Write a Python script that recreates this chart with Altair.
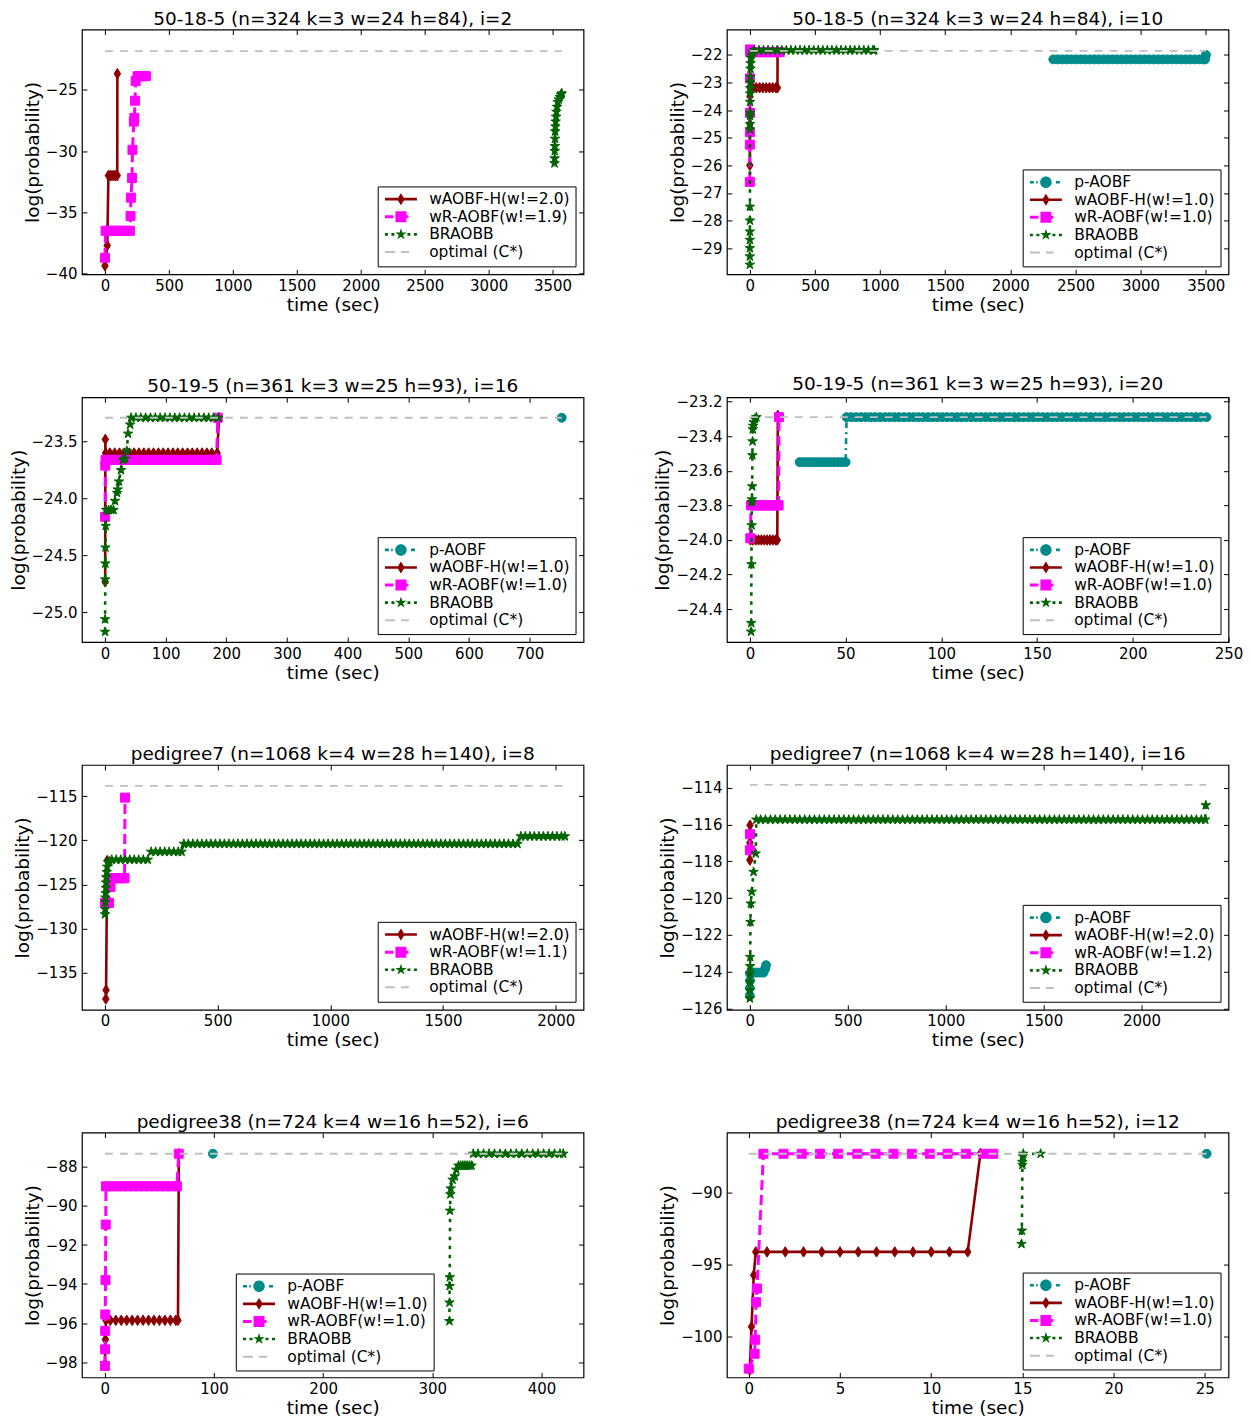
import altair as alt
import pandas as pd

FONT = "DejaVu Sans"
W, H = 502, 245

# ---------------- data ----------------
TITLES = [
    "50-18-5 (n=324 k=3 w=24 h=84), i=2",
    "50-18-5 (n=324 k=3 w=24 h=84), i=10",
    "50-19-5 (n=361 k=3 w=25 h=93), i=16",
    "50-19-5 (n=361 k=3 w=25 h=93), i=20",
    "pedigree7 (n=1068 k=4 w=28 h=140), i=8",
    "pedigree7 (n=1068 k=4 w=28 h=140), i=16",
    "pedigree38 (n=724 k=4 w=16 h=52), i=6",
    "pedigree38 (n=724 k=4 w=16 h=52), i=12",
]
LEGENDS = [
    ["wAOBF-H(w!=2.0)", "wR-AOBF(w!=1.9)", "BRAOBB", "optimal (C*)"],
    ["p-AOBF", "wAOBF-H(w!=1.0)", "wR-AOBF(w!=1.0)", "BRAOBB", "optimal (C*)"],
    ["p-AOBF", "wAOBF-H(w!=1.0)", "wR-AOBF(w!=1.0)", "BRAOBB", "optimal (C*)"],
    ["p-AOBF", "wAOBF-H(w!=1.0)", "wR-AOBF(w!=1.0)", "BRAOBB", "optimal (C*)"],
    ["wAOBF-H(w!=2.0)", "wR-AOBF(w!=1.1)", "BRAOBB", "optimal (C*)"],
    ["p-AOBF", "wAOBF-H(w!=2.0)", "wR-AOBF(w!=1.2)", "BRAOBB", "optimal (C*)"],
    ["p-AOBF", "wAOBF-H(w!=1.0)", "wR-AOBF(w!=1.0)", "BRAOBB", "optimal (C*)"],
    ["p-AOBF", "wAOBF-H(w!=1.0)", "wR-AOBF(w!=1.0)", "BRAOBB", "optimal (C*)"],
]
OPTIMAL = [-21.85, -21.85, -23.29, -23.29, -113.83, -113.85, -87.32, -87.33]
OPT_TMAX = [3572, 3502, 753, 238.5, 2040, 2330, 420, 25.1]

X_DOMAINS = [[-180, 3742], [-176, 3675], [-38, 789], [-12, 250],
             [-102, 2123], [-117, 2444], [-21, 438.6], [-1.2, 26.3]]
Y_DOMAINS = [[-40.05, -20.1], [-29.95, -21.08], [-25.26, -23.11], [-24.59, -23.175],
             [-139.23, -111.45], [-126.07, -112.77], [-98.79, -86.24], [-102.81, -85.87]]
X_TICKS = [
    [0, 500, 1000, 1500, 2000, 2500, 3000, 3500],
    [0, 500, 1000, 1500, 2000, 2500, 3000, 3500],
    [0, 100, 200, 300, 400, 500, 600, 700],
    [0, 50, 100, 150, 200, 250],
    [0, 500, 1000, 1500, 2000],
    [0, 500, 1000, 1500, 2000],
    [0, 100, 200, 300, 400],
    [0, 5, 10, 15, 20, 25],
]
Y_TICKS = [
    [-40, -35, -30, -25],
    [-29, -28, -27, -26, -25, -24, -23, -22],
    [-25.0, -24.5, -24.0, -23.5],
    [-24.4, -24.2, -24.0, -23.8, -23.6, -23.4, -23.2],
    [-135, -130, -125, -120, -115],
    [-126, -124, -122, -120, -118, -116, -114],
    [-98, -96, -94, -92, -90, -88],
    [-100, -95, -90],
]
Y_FORMATS = ["d", "d", ".1f", ".1f", "d", "d", "d", "d"]

# panel 1
P1_WA_T = [0, 18, 27, 40, 55, 70, 85, 96, 97]
P1_WA_Y = [-39.35, -37.7, -32.0, -32.0, -32.0, -32.0, -32.0, -32.0, -23.7]
P1_WR_T = [0, 5, 35, 65, 95, 125, 160, 195, 200, 203, 212, 215, 226, 230, 235, 240, 255, 275, 295, 320]
P1_WR_Y = [-38.7, -36.5, -36.5, -36.5, -36.5, -36.5, -36.5, -36.5, -35.3, -33.8,
           -32.2, -29.9, -27.6, -27.3, -25.9, -24.3, -23.9, -23.9, -23.9, -23.9]
P1_BR_T = [3515, 3516, 3517, 3518, 3519, 3520, 3522, 3524, 3527, 3530, 3535, 3540, 3548, 3556, 3565, 3572]
P1_BR_Y = [-31.0, -30.6, -30.0, -29.6, -29.0, -28.4, -28.0, -27.6, -27.2, -26.8, -26.4, -26.0, -25.8, -25.6, -25.4, -25.3]

# panel 2
P2_PA_T = [2330, 2365, 2400, 2435, 2470, 2505, 2540, 2575, 2610, 2645,
           2680, 2715, 2750, 2785, 2820, 2855, 2890, 2925, 2960, 2995,
           3030, 3065, 3100, 3135, 3170, 3205, 3240, 3275, 3310, 3345,
           3380, 3415, 3450, 3485, 3495, 3502]
P2_PA_Y = [-22.16, -22.16, -22.16, -22.16, -22.16, -22.16, -22.16, -22.16, -22.16, -22.16,
           -22.16, -22.16, -22.16, -22.16, -22.16, -22.16, -22.16, -22.16, -22.16, -22.16,
           -22.16, -22.16, -22.16, -22.16, -22.16, -22.16, -22.16, -22.16, -22.16, -22.16,
           -22.16, -22.16, -22.16, -22.16, -22.16, -22.0]
P2_WA_T = [0, 0.5, 1, 2, 25, 50, 75, 100, 125, 150, 175, 200, 212, 213]
P2_WA_Y = [-26.0, -24.5, -23.5, -23.19, -23.19, -23.19, -23.19, -23.19, -23.19, -23.19, -23.19, -23.19, -23.19, -21.85]
P2_WR_T = [0, 0.3, 0.6, 1, 1.5, 2, 3, 30, 60, 90, 120, 150, 180, 210, 230]
P2_WR_Y = [-26.6, -25.25, -24.8, -24.1, -22.85, -21.8, -21.9, -21.9, -21.9, -21.9, -21.9, -21.9, -21.9, -21.9, -21.9]
P2_BR_T = [0.1, 0.2, 0.3, 0.4, 0.5, 0.6, 0.8, 1, 1.2, 1.4, 1.6, 1.8, 2, 2.5, 3, 4, 5, 6, 8, 12, 20,
           35, 70, 105, 140, 175, 210, 245, 280, 315, 350,
           385, 420, 455, 490, 525, 560, 595, 630, 665, 700,
           735, 770, 805, 840, 875, 910, 945, 955]
P2_BR_Y = [-29.6, -29.3, -29.0, -28.7, -28.4, -28.0, -27.5, -24.7, -24.5, -24.2, -24.1, -23.7, -23.4, -23.2,
           -23.0, -22.8, -22.5, -22.3, -22.1, -22.0, -21.9,
           -21.83, -21.83, -21.83, -21.83, -21.83, -21.83, -21.83, -21.83, -21.83, -21.83,
           -21.83, -21.83, -21.83, -21.83, -21.83, -21.83, -21.83, -21.83, -21.83, -21.83,
           -21.83, -21.83, -21.83, -21.83, -21.83, -21.83, -21.83, -21.83]

# panel 3
P3_PA_T = [753]
P3_PA_Y = [-23.29]
P3_WA_T = [0.3, 0.6, 1, 8, 16, 24, 32, 40, 48, 56, 64, 72, 80, 88, 96, 104, 112, 120,
           128, 136, 144, 152, 160, 168, 176, 185, 188]
P3_WA_Y = [-24.73, -23.48, -23.6, -23.6, -23.6, -23.6, -23.6, -23.6, -23.6, -23.6, -23.6, -23.6,
           -23.6, -23.6, -23.6, -23.6, -23.6, -23.6, -23.6, -23.6, -23.6, -23.6, -23.6, -23.6,
           -23.6, -23.6, -23.29]
P3_WR_T = [0.2, 0.5, 1, 8, 16, 24, 32, 40, 48, 56, 64, 72, 80, 88, 96, 104, 112, 120,
           128, 136, 144, 152, 160, 168, 176, 184, 186]
P3_WR_Y = [-24.16, -23.71, -23.66, -23.66, -23.66, -23.66, -23.66, -23.66, -23.66, -23.66, -23.66, -23.66,
           -23.66, -23.66, -23.66, -23.66, -23.66, -23.66, -23.66, -23.66, -23.66, -23.66, -23.66, -23.66,
           -23.66, -23.66, -23.29]
P3_BR_T = [0.1, 0.2, 0.4, 0.6, 0.8, 1.2, 2, 6, 10, 14, 16.5, 19.8, 21, 23, 26.4, 29.7, 33, 36, 38, 41.5, 43,
           51, 59, 67, 75, 83, 91, 99, 107, 115, 123, 131, 139, 147, 155, 163, 171, 179, 187]
P3_BR_Y = [-25.17, -25.06, -24.71, -24.57, -24.43, -24.24, -24.1, -24.1, -24.1, -24.1, -24.02, -23.95, -23.92,
           -23.85, -23.75, -23.66, -23.65, -23.58, -23.43, -23.35, -23.29,
           -23.29, -23.29, -23.29, -23.29, -23.29, -23.29, -23.29, -23.29, -23.29,
           -23.29, -23.29, -23.29, -23.29, -23.29, -23.29, -23.29, -23.29, -23.29]

# panel 4
P4_PA_T = [26, 28, 30, 32, 34, 36, 38, 40, 42, 44, 46, 48, 50,
           50.5,
           53, 55.5, 58, 60.5, 63, 65.5, 68, 70.5, 73, 75.5,
           78, 80.5, 83, 85.5, 88, 90.5, 93, 95.5, 98, 100.5,
           103, 105.5, 108, 110.5, 113, 115.5, 118, 120.5, 123, 125.5,
           128, 130.5, 133, 135.5, 138, 140.5, 143, 145.5, 148, 150.5,
           153, 155.5, 158, 160.5, 163, 165.5, 168, 170.5, 173, 175.5,
           178, 180.5, 183, 185.5, 188, 190.5, 193, 195.5, 198, 200.5,
           203, 205.5, 208, 210.5, 213, 215.5, 218, 220.5, 223, 225.5,
           228, 230.5, 233, 235.5,
           238.5]
P4_PA_Y = [-23.55, -23.55, -23.55, -23.55, -23.55, -23.55, -23.55, -23.55, -23.55, -23.55, -23.55, -23.55, -23.55,
           -23.29,
           -23.29, -23.29, -23.29, -23.29, -23.29, -23.29, -23.29, -23.29, -23.29, -23.29,
           -23.29, -23.29, -23.29, -23.29, -23.29, -23.29, -23.29, -23.29, -23.29, -23.29,
           -23.29, -23.29, -23.29, -23.29, -23.29, -23.29, -23.29, -23.29, -23.29, -23.29,
           -23.29, -23.29, -23.29, -23.29, -23.29, -23.29, -23.29, -23.29, -23.29, -23.29,
           -23.29, -23.29, -23.29, -23.29, -23.29, -23.29, -23.29, -23.29, -23.29, -23.29,
           -23.29, -23.29, -23.29, -23.29, -23.29, -23.29, -23.29, -23.29, -23.29, -23.29,
           -23.29, -23.29, -23.29, -23.29, -23.29, -23.29, -23.29, -23.29, -23.29, -23.29,
           -23.29, -23.29, -23.29, -23.29,
           -23.29]
P4_WA_T = [0.3, 1.5, 3, 4.5, 6, 7.5, 9, 10.5, 12, 13.5, 14.3, 14.6]
P4_WA_Y = [-24.0, -24.0, -24.0, -24.0, -24.0, -24.0, -24.0, -24.0, -24.0, -24.0, -24.0, -23.28]
P4_WR_T = [0.2, 0.6, 2, 3.5, 5, 6.5, 8, 9.5, 11, 12.5, 14, 15, 15.2]
P4_WR_Y = [-23.99, -23.8, -23.8, -23.8, -23.8, -23.8, -23.8, -23.8, -23.8, -23.8, -23.8, -23.8, -23.29]
P4_BR_T = [0.6, 0.7, 0.8, 0.9, 1.0, 1.1, 1.2, 1.3, 1.4, 1.5, 1.7, 2.0, 2.5, 3.4]
P4_BR_Y = [-24.53, -24.48, -24.14, -23.915, -23.78, -23.765, -23.69, -23.51, -23.43, -23.36, -23.34, -23.32, -23.30, -23.29]

# panel 5
P5_WA_T = [4, 5, 10]
P5_WA_Y = [-138.0, -137.0, -122.3]
P5_WR_T = [0, 10, 18, 25, 35, 50, 65, 80, 87, 89]
P5_WR_Y = [-127.1, -127.1, -127.1, -125.3, -124.3, -124.3, -124.3, -124.3, -124.3, -115.16]
P5_BR_T = [0.5, 1, 1.5, 2, 3, 4, 5, 6, 8, 10, 14, 20, 30,
           50, 70, 90, 110, 130, 150, 170, 190,
           205, 225, 245, 265, 285, 305, 325, 340,
           350, 370, 390, 410, 430, 450, 470, 490, 510, 530,
           550, 570, 590, 610, 630, 650, 670, 690, 710, 730,
           750, 770, 790, 810, 830, 850, 870, 890, 910, 930,
           950, 970, 990, 1010, 1030, 1050, 1070, 1090, 1110, 1130,
           1150, 1170, 1190, 1210, 1230, 1250, 1270, 1290, 1310, 1330,
           1350, 1370, 1390, 1410, 1430, 1450, 1470, 1490, 1510, 1530,
           1550, 1570, 1590, 1610, 1630, 1650, 1670, 1690, 1710, 1730,
           1750, 1770, 1790, 1810, 1830,
           1845, 1865, 1885, 1905, 1925, 1945, 1965, 1985, 2005, 2025, 2040]
P5_BR_Y = [-128.4, -127.8, -127.0, -126.5, -126.0, -125.4, -124.8, -124.2, -123.6, -123.0, -122.5, -122.4, -122.2,
           -122.2, -122.2, -122.2, -122.2, -122.2, -122.2, -122.2, -122.2,
           -121.3, -121.3, -121.3, -121.3, -121.3, -121.3, -121.3, -121.3,
           -120.4, -120.4, -120.4, -120.4, -120.4, -120.4, -120.4, -120.4, -120.4, -120.4,
           -120.4, -120.4, -120.4, -120.4, -120.4, -120.4, -120.4, -120.4, -120.4, -120.4,
           -120.4, -120.4, -120.4, -120.4, -120.4, -120.4, -120.4, -120.4, -120.4, -120.4,
           -120.4, -120.4, -120.4, -120.4, -120.4, -120.4, -120.4, -120.4, -120.4, -120.4,
           -120.4, -120.4, -120.4, -120.4, -120.4, -120.4, -120.4, -120.4, -120.4, -120.4,
           -120.4, -120.4, -120.4, -120.4, -120.4, -120.4, -120.4, -120.4, -120.4, -120.4,
           -120.4, -120.4, -120.4, -120.4, -120.4, -120.4, -120.4, -120.4, -120.4, -120.4,
           -120.4, -120.4, -120.4, -120.4, -120.4,
           -119.55, -119.55, -119.55, -119.55, -119.55, -119.55, -119.55, -119.55, -119.55, -119.55, -119.55]

# panel 6
P6_PA_T = [0.1, 0.3, 0.6, 1, 10, 25, 40, 55, 70, 78, 83]
P6_PA_Y = [-125.3, -124.9, -124.5, -124.1, -124.05, -124.05, -124.05, -124.05, -124.05, -123.85, -123.65]
P6_WA_T = [0.1, 0.5, 1]
P6_WA_Y = [-117.94, -117.0, -116.04]
P6_WR_T = [0.2, 0.6]
P6_WR_Y = [-117.4, -116.53]
P6_BR_T = [0.1, 0.3, 0.6, 1, 1.5, 2, 3, 5, 10, 19, 30,
           33,
           55, 80, 105, 130, 155, 180, 205, 230, 255, 280,
           305, 330, 355, 380, 405, 430, 455, 480, 505, 530,
           555, 580, 605, 630, 655, 680, 705, 730, 755, 780,
           805, 830, 855, 880, 905, 930, 955, 980, 1005, 1030,
           1055, 1080, 1105, 1130, 1155, 1180, 1205, 1230, 1255, 1280,
           1305, 1330, 1355, 1380, 1405, 1430, 1455, 1480, 1505, 1530,
           1555, 1580, 1605, 1630, 1655, 1680, 1705, 1730, 1755, 1780,
           1805, 1830, 1855, 1880, 1905, 1930, 1955, 1980, 2005, 2030,
           2055, 2080, 2105, 2130, 2155, 2180, 2205, 2230, 2255, 2280,
           2305,
           2325,
           2328]
P6_BR_Y = [-125.45, -125.0, -124.55, -124.1, -123.7, -123.2, -121.3, -120.3, -119.66, -118.58, -117.58,
           -115.74,
           -115.74, -115.74, -115.74, -115.74, -115.74, -115.74, -115.74, -115.74, -115.74, -115.74,
           -115.74, -115.74, -115.74, -115.74, -115.74, -115.74, -115.74, -115.74, -115.74, -115.74,
           -115.74, -115.74, -115.74, -115.74, -115.74, -115.74, -115.74, -115.74, -115.74, -115.74,
           -115.74, -115.74, -115.74, -115.74, -115.74, -115.74, -115.74, -115.74, -115.74, -115.74,
           -115.74, -115.74, -115.74, -115.74, -115.74, -115.74, -115.74, -115.74, -115.74, -115.74,
           -115.74, -115.74, -115.74, -115.74, -115.74, -115.74, -115.74, -115.74, -115.74, -115.74,
           -115.74, -115.74, -115.74, -115.74, -115.74, -115.74, -115.74, -115.74, -115.74, -115.74,
           -115.74, -115.74, -115.74, -115.74, -115.74, -115.74, -115.74, -115.74, -115.74, -115.74,
           -115.74, -115.74, -115.74, -115.74, -115.74, -115.74, -115.74, -115.74, -115.74, -115.74,
           -115.74,
           -115.74,
           -114.96]

# panel 7
P7_PA_T = [99]
P7_PA_Y = [-87.32]
P7_WA_T = [0.1, 0.5, 1, 5, 10, 15, 20, 25, 30, 35, 40, 45, 50, 55, 60, 65, 67, 67.8]
P7_WA_Y = [-98.1, -96.84, -95.86, -95.86, -95.86, -95.86, -95.86, -95.86, -95.86, -95.86,
           -95.86, -95.86, -95.86, -95.86, -95.86, -95.86, -95.86, -87.32]
P7_WR_T = [0.1, 0.2, 0.3, 0.4, 0.6, 0.8, 1, 6, 11, 16, 21, 26, 31, 36, 41, 46, 51, 56, 61, 66, 67.7]
P7_WR_Y = [-98.2, -97.35, -96.4, -95.56, -93.8, -90.95, -88.99, -88.99, -88.99, -88.99, -88.99,
           -88.99, -88.99, -88.99, -88.99, -88.99, -88.99, -88.99, -88.99, -88.99, -87.32]
P7_BR_T = [315.7, 315.8, 315.9, 316.0, 316.3, 316.6, 316.9, 318.6, 320.5, 322, 324, 326, 328, 330, 332,
           334, 336, 337.5, 342, 347, 352, 357, 362, 367, 372, 377, 382, 387, 392, 397, 402, 407, 412, 417, 420]
P7_BR_Y = [-95.9, -94.95, -94.1, -93.65, -90.24, -89.4, -89.1, -88.65, -88.48, -88.14, -87.93, -87.93,
           -87.93, -87.93, -87.93, -87.93, -87.93, -87.32, -87.32, -87.32, -87.32, -87.32, -87.32, -87.32,
           -87.32, -87.32, -87.32, -87.32, -87.32, -87.32, -87.32, -87.32, -87.32, -87.32, -87.32]

# panel 8
P8_PA_T = [25.1]
P8_PA_Y = [-87.33]
P8_WA_T = [0.05, 0.15, 0.27, 0.38, 1, 2, 3, 4, 5, 6, 7, 8, 9, 10, 11, 12, 12.7]
P8_WA_Y = [-102.3, -99.3, -95.73, -94.12, -94.12, -94.12, -94.12, -94.12, -94.12, -94.12,
           -94.12, -94.12, -94.12, -94.12, -94.12, -94.12, -87.3]
P8_WR_T = [0, 0.32, 0.35, 0.4, 0.45, 0.8, 1.9, 2.9, 3.9, 4.9, 5.95, 6.95, 7.93, 8.94, 9.92, 10.9, 11.9, 12.9, 13.4]
P8_WR_Y = [-102.2, -101.17, -100.2, -97.6, -96.65, -87.33, -87.33, -87.33, -87.33, -87.33,
           -87.33, -87.33, -87.33, -87.33, -87.33, -87.33, -87.33, -87.33, -87.33]
P8_BR_T = [14.95, 14.97, 15.0, 15.0, 15.02, 15.05, 16.0]
P8_BR_Y = [-93.57, -92.65, -88.1, -87.9, -87.5, -87.33, -87.33]

PANEL_SERIES = [
    [("wAOBF-H", P1_WA_T, P1_WA_Y), ("wR-AOBF", P1_WR_T, P1_WR_Y), ("BRAOBB", P1_BR_T, P1_BR_Y)],
    [("p-AOBF", P2_PA_T, P2_PA_Y), ("wAOBF-H", P2_WA_T, P2_WA_Y), ("wR-AOBF", P2_WR_T, P2_WR_Y), ("BRAOBB", P2_BR_T, P2_BR_Y)],
    [("p-AOBF", P3_PA_T, P3_PA_Y), ("wAOBF-H", P3_WA_T, P3_WA_Y), ("wR-AOBF", P3_WR_T, P3_WR_Y), ("BRAOBB", P3_BR_T, P3_BR_Y)],
    [("p-AOBF", P4_PA_T, P4_PA_Y), ("wAOBF-H", P4_WA_T, P4_WA_Y), ("wR-AOBF", P4_WR_T, P4_WR_Y), ("BRAOBB", P4_BR_T, P4_BR_Y)],
    [("wAOBF-H", P5_WA_T, P5_WA_Y), ("wR-AOBF", P5_WR_T, P5_WR_Y), ("BRAOBB", P5_BR_T, P5_BR_Y)],
    [("p-AOBF", P6_PA_T, P6_PA_Y), ("wAOBF-H", P6_WA_T, P6_WA_Y), ("wR-AOBF", P6_WR_T, P6_WR_Y), ("BRAOBB", P6_BR_T, P6_BR_Y)],
    [("p-AOBF", P7_PA_T, P7_PA_Y), ("wAOBF-H", P7_WA_T, P7_WA_Y), ("wR-AOBF", P7_WR_T, P7_WR_Y), ("BRAOBB", P7_BR_T, P7_BR_Y)],
    [("p-AOBF", P8_PA_T, P8_PA_Y), ("wAOBF-H", P8_WA_T, P8_WA_Y), ("wR-AOBF", P8_WR_T, P8_WR_Y), ("BRAOBB", P8_BR_T, P8_BR_Y)],
]
# legend placement: None -> bottom-right corner, else (x, y) inside the plot
LEGEND_XY = [None, None, None, None, None, None, (154, 141), None]

# ---------------- styles ----------------
COL = {"p-AOBF": "#008b8b", "wAOBF-H": "#8b0000", "wR-AOBF": "#ff00ff", "BRAOBB": "#006400", "opt": "#c0c0c0"}
DIAMOND = "M0,-1L0.62,0L0,1L-0.62,0Z"
STAR = ("M0,-1L0.2245,-0.309L0.9511,-0.309L0.3633,0.118L0.5878,0.809L0,0.382"
        "L-0.5878,0.809L-0.3633,0.118L-0.9511,-0.309L-0.2245,-0.309Z")
STYLE = {
    "p-AOBF": dict(dash=[6, 4, 2, 4], width=2.6, shape="circle", size=80),
    "wAOBF-H": dict(dash=None, width=2.6, shape=DIAMOND, size=110),
    "wR-AOBF": dict(dash=[10, 5], width=3.0, shape="square", size=81),
    "BRAOBB": dict(dash=[3.5, 5.5], width=2.6, shape=STAR, size=100),
}
LEG_SHAPE = {
    "p-AOBF": ("M-1.1,-0.26H-0.3V0.26H-1.1Z M0.15,-0.26H0.45V0.26H0.15Z M4.1,-0.26H4.9V0.26H4.1Z "
               "M0.95,0A1.15,1.15,0,1,1,3.25,0A1.15,1.15,0,1,1,0.95,0Z"),
    "wAOBF-H": "M-1.1,-0.26H5.3V0.26H-1.1Z M2.1,-1.2L2.85,0L2.1,1.2L1.35,0Z",
    "wR-AOBF": "M-1.1,-0.3H0.6V0.3H-1.1Z M3.2,-0.3H3.6V0.3H3.2Z M1.0,-1.1H3.2V1.1H1.0Z",
    "BRAOBB": ("M-1.1,-0.26H-0.5V0.26H-1.1Z M0.2,-0.26H0.8V0.26H0.2Z M3.4,-0.26H4.0V0.26H3.4Z "
               "M4.7,-0.26H5.3V0.26H4.7Z M2.1,-1.2L2.3694,-0.3708L3.2413,-0.3708L2.536,0.1416L2.8054,0.9708"
               "L2.1,0.4584L1.3946,0.9708L1.664,0.1416L0.9587,-0.3708L1.8306,-0.3708Z"),
    "opt": "M-1.1,-0.2H0.9V0.2H-1.1Z M2.1,-0.2H3.7V0.2H2.1Z",
}


def make_panel(k):
    xs = alt.Scale(domain=X_DOMAINS[k], nice=False, zero=False)
    ys = alt.Scale(domain=Y_DOMAINS[k], nice=False, zero=False)
    layers = []
    keys = []
    for key, t, v in PANEL_SERIES[k]:
        df = pd.DataFrame({"t": t, "v": v, "i": list(range(len(t)))})
        st = STYLE[key]
        lk = dict(color=COL[key], strokeWidth=st["width"], strokeCap="butt", strokeJoin="round", opacity=1)
        if st["dash"]:
            lk["strokeDash"] = st["dash"]
        xe = alt.X("t:Q", scale=xs, axis=None)
        ye = alt.Y("v:Q", scale=ys, axis=None)
        if len(t) > 1:
            layers.append(alt.Chart(df).mark_line(**lk).encode(x=xe, y=ye, order=alt.Order("i:Q")))
        layers.append(alt.Chart(df).mark_point(filled=True, opacity=1, shape=st["shape"], size=st["size"],
                                               color=COL[key], stroke=COL[key], strokeWidth=1).encode(x=xe, y=ye))
        keys.append(key)
    keys.append("opt")

    odf = pd.DataFrame({"t": [0, OPT_TMAX[k]], "v": [OPTIMAL[k], OPTIMAL[k]]})
    bottom = alt.Axis(values=X_TICKS[k], format="d", title="time (sec)", orient="bottom", offset=-5,
                      tickSize=5, labelPadding=4, titlePadding=2)
    left = alt.Axis(values=Y_TICKS[k], format=Y_FORMATS[k], title="log(probability)", orient="left",
                    offset=-5, tickSize=5, labelPadding=5, titlePadding=3)
    top = alt.Axis(values=X_TICKS[k], orient="top", offset=-5, tickSize=5, labels=False, title=None)
    right = alt.Axis(values=Y_TICKS[k], orient="right", offset=-5, tickSize=5, labels=False, title=None)
    layers.append(alt.Chart(odf).mark_line(color=COL["opt"], strokeWidth=1.8, strokeDash=[8, 7],
                                           strokeCap="butt").encode(
        x=alt.X("t:Q", scale=xs, axis=bottom), y=alt.Y("v:Q", scale=ys, axis=left)))
    layers.append(alt.Chart(odf).mark_line(opacity=0).encode(
        x=alt.X("t:Q", scale=xs, axis=top), y=alt.Y("v:Q", scale=ys, axis=right)))

    labels = LEGENDS[k]
    if LEGEND_XY[k] is None:
        leg = alt.Legend(title=None, orient="bottom-right", offset=8)
    else:
        leg = alt.Legend(title=None, orient="none", legendX=LEGEND_XY[k][0], legendY=LEGEND_XY[k][1])
    ldf = pd.DataFrame({"series": labels})
    layers.append(alt.Chart(ldf).mark_point(filled=True, opacity=1).encode(
        color=alt.Color("series:N", scale=alt.Scale(domain=labels, range=[COL[x] for x in keys]), legend=leg),
        shape=alt.Shape("series:N", scale=alt.Scale(domain=labels, range=[LEG_SHAPE[x] for x in keys]), legend=leg),
    ).transform_filter("false"))

    return alt.layer(*layers).resolve_axis(x="independent", y="independent").properties(
        width=W, height=H, title=alt.TitleParams(TITLES[k], fontSize=18.5, fontWeight="normal", font=FONT, offset=1))


panels = [make_panel(k) for k in range(8)]

chart = alt.concat(*panels, columns=2, spacing={"row": 123, "column": 143.5}, bounds="flush").resolve_scale(
    x="independent", y="independent", color="independent", shape="independent"
).properties(
    padding={"left": 0, "top": 0, "right": 0, "bottom": -2}
).configure(font=FONT).configure_view(
    stroke="black", strokeWidth=1.2
).configure_axis(
    labelFont=FONT, titleFont=FONT, labelFontSize=15, titleFontSize=18.5, titleFontWeight="normal",
    labelColor="black", titleColor="black", tickColor="black", tickWidth=1, grid=False, domain=False,
    labelFlush=False, labelOverlap=False
).configure_legend(
    labelFont=FONT, labelFontSize=15.5, labelColor="black", padding=5, strokeColor="black", fillColor="white",
    symbolStrokeWidth=0, symbolSize=100, labelOffset=31, rowPadding=0.6, labelLimit=300, cornerRadius=0
).configure_title(font=FONT, fontSize=18.5, fontWeight="normal", color="black", anchor="middle")

chart.save("out.html", embed_options={"renderer": "svg", "actions": False})
